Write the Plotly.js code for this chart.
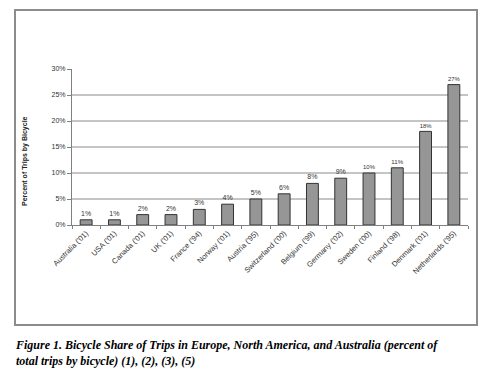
<!DOCTYPE html>
<html>
<head>
<meta charset="utf-8">
<script src="https://cdn.plot.ly/plotly-3.0.1.min.js"></script>
<style>
html,body{margin:0;padding:0;background:#fff;}
#chart{width:498px;height:374px;}
</style>
</head>
<body>
<div id="chart"></div>
<script>
const categories = ["Australia ('01)", "USA ('01)", "Canada ('01)", "UK ('01)", "France ('94)", "Norway ('01)", "Austria ('95)", "Switzerland ('00)", "Belgium ('99)", "Germany ('02)", "Sweden ('00)", "Finland ('98)", "Denmark ('01)", "Netherlands ('95)"];
const shares = [0.01, 0.01, 0.02, 0.02, 0.03, 0.04, 0.05, 0.06, 0.08, 0.09, 0.10, 0.11, 0.18, 0.27];
const yTicks = [0, 0.05, 0.10, 0.15, 0.20, 0.25, 0.30];
const yTickLabels = ["0%", "5%", "10%", "15%", "20%", "25%", "30%"];
const yTitle = "Percent of Trips by Bicycle";
const captionLines = ["Figure 1. Bicycle Share of Trips in Europe, North America, and Australia (percent of", "total trips by bicycle) (1), (2), (3), (5)"];

const W = 498, H = 374;
const L = 72, R = 30, T = 69, B = 149;
const pw = W - L - R, ph = H - T - B;
const px = v => (v - L) / pw;
const py = v => (H - B - v) / ph;

const gridShapes = yTicks.filter(v => v > 0 && v < 0.3).map(v => ({
  type: 'line', xref: 'paper', yref: 'y', x0: 0, x1: 1, y0: v, y1: v,
  line: {color: '#8a8a8a', width: 1}, layer: 'below'
}));

const frame = {
  type: 'rect', xref: 'paper', yref: 'paper',
  x0: px(15), x1: px(477), y0: py(325), y1: py(10),
  line: {color: '#8c8c8c', width: 2}, fillcolor: 'rgba(0,0,0,0)', layer: 'below'
};

const data = [{
  type: 'bar',
  x: categories,
  y: shares,
  marker: {color: '#969696', line: {color: '#333333', width: 1}},
  width: 0.42,
  text: shares.map(v => Math.round(v * 100) + '%'),
  textposition: 'outside',
  cliponaxis: false,
  textfont: {family: 'Liberation Sans, Arial, sans-serif', size: 7, color: '#333'},
  hoverinfo: 'none'
}];

const captionFont = {family: 'Liberation Serif, Times New Roman, serif', size: 12, color: '#000', weight: 'bold', style: 'italic'};

const layout = {
  width: W, height: H,
  margin: {l: L, r: R, t: T, b: B, pad: 0},
  paper_bgcolor: '#fff', plot_bgcolor: '#fff',
  showlegend: false,
  bargap: 0,
  font: {family: 'Liberation Sans, Arial, sans-serif', size: 7, color: '#333'},
  xaxis: {
    type: 'category',
    tickangle: -45,
    tickson: 'boundaries',
    ticks: 'outside', ticklen: 3, tickcolor: '#808080',
    showline: true, linecolor: '#808080', linewidth: 1,
    showgrid: false,
    tickfont: {family: 'Liberation Sans, Arial, sans-serif', size: 7.5, color: '#333'},
    automargin: false
  },
  yaxis: {
    range: [0, 0.3],
    tickvals: yTicks, ticktext: yTickLabels,
    ticks: 'outside', ticklen: 4, tickcolor: '#808080',
    showline: true, linecolor: '#808080', linewidth: 1,
    showgrid: false, zeroline: false,
    tickfont: {family: 'Liberation Sans, Arial, sans-serif', size: 7, color: '#333'},
    automargin: false
  },
  shapes: [frame].concat(gridShapes),
  annotations: [
    {
      text: yTitle, textangle: -90,
      xref: 'paper', yref: 'paper', x: px(25), y: py(161),
      xanchor: 'center', yanchor: 'middle', showarrow: false,
      font: {family: 'Liberation Sans, Arial, sans-serif', size: 7, color: '#222', weight: 'bold'}
    },
    {
      text: captionLines.join('<br>'),
      xref: 'paper', yref: 'paper', x: px(14), y: py(337),
      xanchor: 'left', yanchor: 'top', align: 'left', showarrow: false,
      borderpad: 0,
      font: captionFont
    }
  ]
};

Plotly.newPlot('chart', data, layout, {displayModeBar: false, staticPlot: true});
</script>
</body>
</html>
